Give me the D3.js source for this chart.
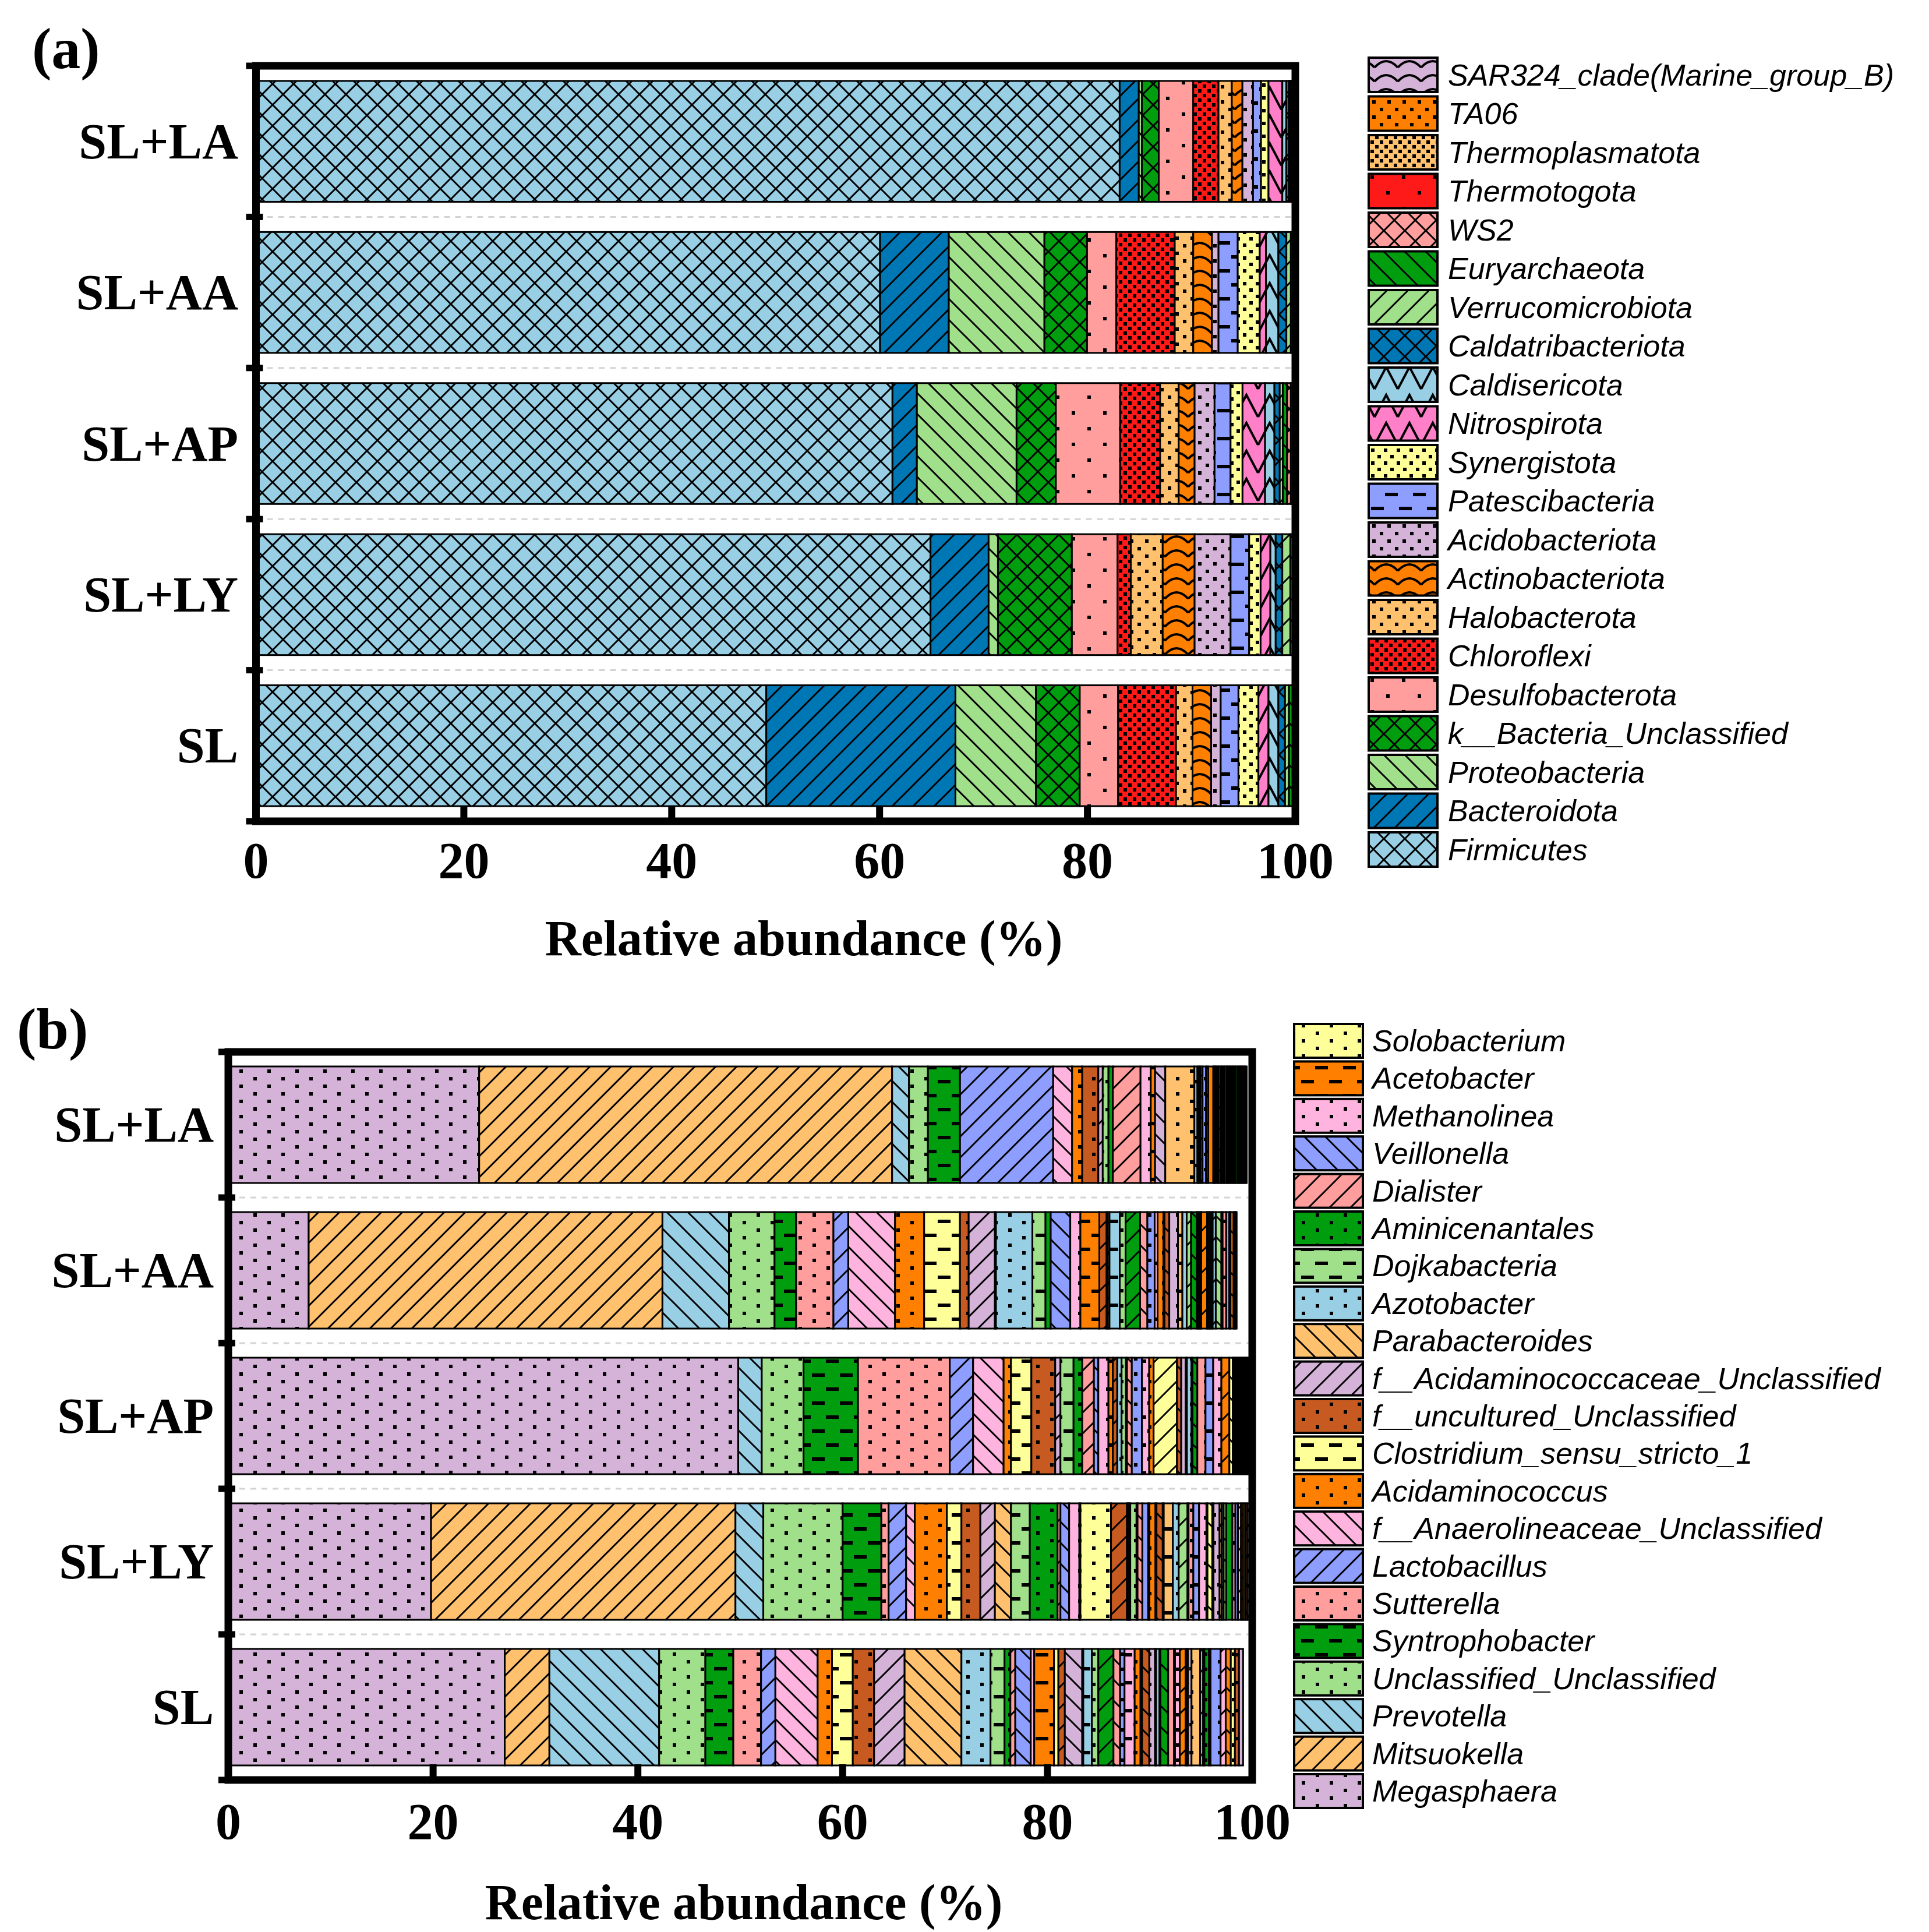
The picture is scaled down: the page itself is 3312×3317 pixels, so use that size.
<!DOCTYPE html>
<html><head><meta charset="utf-8">
<script src="https://cdn.jsdelivr.net/npm/d3@7"></script>
<style>
html,body{margin:0;padding:0;background:#fff;}
svg{display:block;}
</style></head>
<body>
<svg id="chart" width="3312" height="3317"></svg>
<script>
// ---------------- DATA ----------------
const samples = ["SL+LA","SL+AA","SL+AP","SL+LY","SL"];
const xTicks = [0,20,40,60,80,100];
const axisTitle = "Relative abundance (%)";

// Panel (a): phyla, stacking order left -> right (legend bottom -> top)
const phyla = ["Firmicutes","Bacteroidota","Proteobacteria","k__Bacteria_Unclassified","Desulfobacterota",
  "Chloroflexi","Halobacterota","Actinobacteriota","Acidobacteriota","Patescibacteria","Synergistota",
  "Nitrospirota","Caldisericota","Caldatribacteriota","Verrucomicrobiota","Euryarchaeota","WS2",
  "Thermotogota","Thermoplasmatota","TA06","SAR324_clade(Marine_group_B)"];
const phylaSLLA = [83.1,1.84,0.3,1.62,3.32,2.43,1.28,1.02,1.02,0.77,0.72,1.33,0.38,0.26,0.05,0.05,0.02,0.02,0.02,0.02,0.02];
const phylaSLAA = [60.05,6.61,9.2,4.1,2.81,5.63,1.78,1.8,0.63,1.85,2.12,0.59,1.2,0.77,0.43,0.38,0.02,0.02,0.02,0.02,0.02];
const phylaSLAP = [61.24,2.35,9.59,3.78,6.19,3.84,1.79,1.53,1.92,1.54,1.15,2.17,0.9,0.51,0.3,0.41,0.36,0.41,0.01,0.01,0.01];
const phylaSLLY = [64.9,5.59,0.9,7.11,4.4,1.27,3.07,3.07,3.46,1.79,1.1,0.94,0.51,0.64,0.77,0.44,0.02,0.02,0.02,0.02,0.02];
const phylaSL   = [49.1,18.2,7.74,4.22,3.69,5.57,1.59,1.79,0.92,1.71,1.92,0.97,0.95,0.64,0.38,0.39,0.25,0.02,0.02,0.02,0.02];

// Panel (b): genera (first 21 are shown in the legend), stacking order left -> right
const generaLegend = ["Megasphaera","Mitsuokella","Prevotella","Unclassified_Unclassified","Syntrophobacter",
  "Sutterella","Lactobacillus","f__Anaerolineaceae_Unclassified","Acidaminococcus","Clostridium_sensu_stricto_1",
  "f__uncultured_Unclassified","f__Acidaminococcaceae_Unclassified","Parabacteroides","Azotobacter",
  "Dojkabacteria","Aminicenantales","Dialister","Veillonella","Methanolinea","Acetobacter","Solobacterium"];
const generaOther = d3.range(22,57).map(k => "Other genus " + k);
const genera = generaLegend.concat(generaOther);
const generaSLLA = [24.5,40.33,1.65,1.85,3.13,0,9.1,1.85,0.99,0,1.57,0.43,0,0,0.56,0.43,2.7,0,1.0,0.42,0,
  0,1.0,2.84,0.3,0.15,0.15,0.2,0.35,0.2,0.5,0.1,0.1,0.1,
  0.15,0.1,0.2,0.12,0.15,0.1,0.18,0.12,0.14,0.1,0.16,0.12,0.15,0.1,0.2,0.12,0.14,0.1,0.15,0.12,0.14,0.1];
const generaSLAA = [7.85,34.55,6.5,4.45,2.1,3.65,1.45,4.57,2.84,3.5,0.85,2.56,0.1,3.56,1.28,0.51,0,1.91,0.99,1.85,0,
  0.71,0.1,0.18,1.0,0.57,1.42,0.71,0.71,0.29,0.57,0.1,0.47,0.85,
  0.43,0.42,0.43,0.57,0.15,0.15,0.12,0.57,0.15,0.12,0.16,0.12,0.3,0.55,0.12,0.35,0.3,0.12,0.3,0.1,0.1,0.1];
const generaSLAP = [49.8,0,2.3,4.08,5.32,8.96,2.28,2.98,0.72,1.99,2.33,0.51,0,0,1.28,0.85,1.14,0.43,0.99,0.43,0,
  0.43,0,0,0.42,0.43,0.1,0.47,0.99,0.71,0.43,2.28,0.42,0.43,
  0.12,0.45,0.1,0.47,0.8,0.75,0.8,0.78,0.34,0.15,0.12,0.16,0.14,0.15,0.13,0.15,0.14,0.16,0.14,0.15,0.14,0.16];
const generaSLLY = [19.8,29.73,2.72,7.75,3.78,0.71,1.71,0.85,3.13,1.42,1.85,1.42,1.57,0,1.84,2.71,0.28,0.85,1.0,0.1,2.99,
  1.56,0.1,0.12,0.1,0.61,0.1,0.47,0.57,0.12,0.59,0.1,0.61,0.1,
  0.89,0.57,0.86,0.1,0.47,0.56,0.72,0.1,0.47,0.12,0.59,0.2,0.2,0.25,0.6,0.3,0.25,0.3,0.2,0.2,0.2,0.2];
const generaSL   = [27.0,4.36,10.72,4.51,2.73,2.71,1.4,4.13,1.4,2.03,2.08,2.98,5.55,2.84,1.37,0.57,0.48,1.51,0.34,1.93,0.43,
  0.63,1.7,0.1,0.84,0.63,1.48,0.65,0.43,0.99,0.57,0.15,0.71,0.56,
  0.1,0.33,0.1,0.75,0.57,0.1,0.47,0.57,0.1,0.12,0.35,0.85,0.29,0.12,0.45,0.15,0.98,0.5,0.5,0.4,0.4,0.4];

// ---------------- STYLES ----------------
const C = {lb:"#98CFE5", bl:"#0077B5", lg:"#A1E08B", gr:"#009E0F", sa:"#FF9E9C", rd:"#FF1A1A",
  lo:"#FFC16E", or:"#FF8000", lv:"#D5B3D9", pw:"#8E9EFF", ye:"#FFFF9A", pkA:"#FF80C9", pkB:"#FFB3DF", br:"#C65A20"};
const phylaColors = [C.lb,C.bl,C.lg,C.gr,C.sa,C.rd,C.lo,C.or,C.lv,C.pw,C.ye,C.pkA,C.lb,C.bl,C.lg,C.gr,C.sa,C.rd,C.lo,C.or,C.lv];
const phylaPatterns = ["cross","fwd","back","cross","dotsSparse","checker","dotsMed","wave","dotsMed","dashes","checkerL",
  "zigzag","zigzag","cross","fwd","back","cross","dotsSparse","checker","dotsMed","wave"];
const genusColorCycle = [C.lv,C.lo,C.lb,C.lg,C.gr,C.sa,C.pw,C.pkB,C.or,C.ye,C.br];
const genusPatternCycle = ["dots","fwd","back","dots","dashes"];

const svg = d3.select("#chart");
const defs = svg.append("defs");

function makePattern(id, color, type){
  const sizes = {fwd:[36,36],back:[36,36],cross:[36,36],dots:[48,26],dotsMed:[26,26],dotsSparse:[54,54],
    dashes:[48,48],checker:[16,16],checkerL:[22,22],wave:[40,24],zigzag:[40,48]};
  const [w,h] = sizes[type];
  const p = defs.append("pattern").attr("id",id).attr("patternUnits","userSpaceOnUse")
    .attr("width",w).attr("height",h);
  p.append("rect").attr("width",w).attr("height",h).attr("fill",color);
  const line = d => p.append("path").attr("d",d).attr("stroke","#000").attr("stroke-width",3).attr("fill","none");
  const sq = (x,y,a,b) => p.append("rect").attr("x",x).attr("y",y).attr("width",a).attr("height",b).attr("fill","#000");
  const fwd = `M-9,9L9,-9M0,${h}L${w},0M${w-9},${h+9}L${w+9},${h-9}`;
  const back = `M-9,${h-9}L9,${h+9}M0,0L${w},${h}M${w-9},-9L${w+9},9`;
  switch(type){
    case "fwd": line(fwd); break;
    case "back": line(back); break;
    case "cross": line(fwd); line(back); break;
    case "dots": sq(3,3,6,6); sq(27,16,6,6); break;
    case "dotsMed": sq(3,3,6,6); sq(16,16,6,6); break;
    case "dotsSparse": sq(4,4,6,6); sq(31,31,6,6); break;
    case "dashes": sq(2,6,22,6); sq(26,30,22,6); break;
    case "checker": sq(1,1,6,6); sq(9,9,6,6); break;
    case "checkerL": sq(0,0,6,6); sq(11,11,6,6); break;
    case "wave": p.append("path").attr("d","M0,20 Q20,-2 40,20").attr("stroke","#000").attr("stroke-width",4).attr("fill","none"); break;
    case "zigzag": p.append("path").attr("d","M0,44 L20,6 L40,44").attr("stroke","#000").attr("stroke-width",4).attr("fill","none"); break;
  }
  return `url(#${id})`;
}

const phylaFill = phyla.map((n,i) => makePattern("pa"+i, phylaColors[i], phylaPatterns[i]));
const generaFill = genera.map((n,i) => makePattern("pb"+i, genusColorCycle[i%11], genusPatternCycle[i%5]));

const serif = "'Liberation Serif','Times New Roman',serif";
const sans = "'Liberation Sans',Arial,sans-serif";

function drawPanel(o){
  const rows = samples.map((s,i) => {
    const r = {sample:s};
    o.names.forEach((n,j) => r[n] = o.values[i][j]);
    return r;
  });
  const x = d3.scaleLinear().domain([0,100]).range([o.x0,o.x1]);
  const y = d3.scaleBand().domain(samples).range([o.y0,o.y1]).paddingInner(0.2).paddingOuter(0.1);
  const step = y.step();
  const g = svg.append("g");
  g.append("rect").attr("x",o.x0).attr("y",o.y0).attr("width",o.x1-o.x0).attr("height",o.y1-o.y0).attr("fill","#fff");
  // dashed separators between categories
  g.selectAll("line.sep").data(d3.range(1,samples.length)).join("line")
    .attr("x1",o.x0).attr("x2",o.x1).attr("y1",k=>o.y0+k*step).attr("y2",k=>o.y0+k*step)
    .attr("stroke","#d4d4d4").attr("stroke-width",3).attr("stroke-dasharray","10,9");
  const series = d3.stack().keys(o.names)(rows);
  series.forEach((s,i) => {
    g.selectAll(null).data(s.filter(d => d[1]-d[0] > 0)).join("rect")
      .attr("x",d=>x(d[0])).attr("width",d=>x(d[1])-x(d[0]))
      .attr("y",d=>y(d.data.sample)).attr("height",y.bandwidth())
      .attr("fill",o.fills[i]).attr("stroke","#000").attr("stroke-width",3);
  });
  // frame
  g.append("rect").attr("x",o.x0).attr("y",o.y0).attr("width",o.x1-o.x0).attr("height",o.y1-o.y0)
    .attr("fill","none").attr("stroke","#000").attr("stroke-width",13);
  // y ticks at category boundaries
  g.selectAll("rect.yt").data(d3.range(0,samples.length+1)).join("rect")
    .attr("x",o.x0-17).attr("y",k=>o.y0+k*step-5.5).attr("width",29).attr("height",11).attr("fill","#000");
  // x ticks (inward)
  g.selectAll("rect.xt").data(xTicks).join("rect")
    .attr("x",v=>x(v)-6).attr("y",o.y1-27).attr("width",12).attr("height",27).attr("fill","#000");
  // x tick labels
  g.selectAll("text.xl").data(xTicks).join("text")
    .attr("x",v=>x(v)).attr("y",o.tickBase).attr("text-anchor","middle")
    .attr("font-family",serif).attr("font-weight","bold").attr("font-size",88).text(v=>v);
  // category labels
  g.selectAll("text.cl").data(samples).join("text")
    .attr("x",o.labelX).attr("y",s=>y(s)+y.bandwidth()/2+29).attr("text-anchor","end")
    .attr("font-family",serif).attr("font-weight","bold").attr("font-size",86).text(s=>s);
  // axis title
  g.append("text").attr("x",o.titleX).attr("y",o.titleBase).attr("text-anchor","middle")
    .attr("font-family",serif).attr("font-weight","bold").attr("font-size",86).text(axisTitle);
  // panel label
  g.append("text").attr("x",o.panelX).attr("y",o.panelY)
    .attr("font-family",serif).attr("font-weight","bold").attr("font-size",100).text(o.panelText);
  // legend (top row = last series)
  const leg = o.names.slice(0,o.legendCount).map((n,i)=>({n,i})).reverse();
  const lg = g.append("g");
  leg.forEach((d,k) => {
    const top = o.legTop + k*o.legStep;
    lg.append("rect").attr("x",o.legX).attr("y",top).attr("width",o.swW).attr("height",o.swH)
      .attr("fill",o.fills[d.i]).attr("stroke","#000").attr("stroke-width",4);
    lg.append("text").attr("x",o.legTextX).attr("y",top+o.swH/2+18)
      .attr("font-family",sans).attr("font-style","italic").attr("font-size",52).text(d.n);
  });
}

drawPanel({names:phyla, values:[phylaSLLA,phylaSLAA,phylaSLAP,phylaSLLY,phylaSL], fills:phylaFill,
  x0:439.5, x1:2224, y0:113, y1:1410, labelX:409, tickBase:1507, titleX:1380, titleBase:1640,
  panelX:55, panelY:117, panelText:"(a)", legendCount:phyla.length,
  legX:2350, legTop:99, legStep:66.5, swW:118, swH:59, legTextX:2486});

drawPanel({names:genera, values:[generaSLLA,generaSLAA,generaSLAP,generaSLLY,generaSL], fills:generaFill,
  x0:392, x1:2150, y0:1806, y1:3056, labelX:367, tickBase:3157, titleX:1277, titleBase:3295,
  panelX:29, panelY:1800, panelText:"(b)", legendCount:generaLegend.length,
  legX:2222, legTop:1758, legStep:64.4, swW:118, swH:58, legTextX:2356});
</script>
</body></html>
